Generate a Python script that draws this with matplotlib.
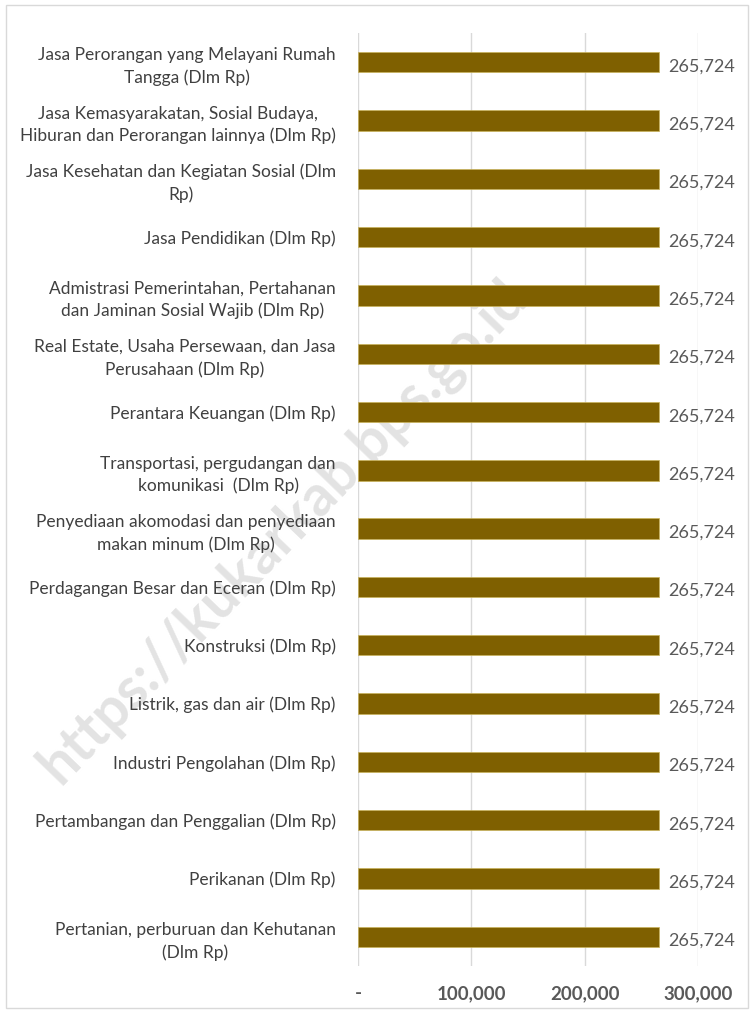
import matplotlib.pyplot as plt
from matplotlib.patches import Rectangle
from matplotlib.ticker import FuncFormatter

# kategori (urutan dari atas ke bawah seperti di gambar)
categories = [
    "Jasa Perorangan yang Melayani Rumah\nTangga (Dlm Rp)",
    "Jasa Kemasyarakatan, Sosial Budaya,\nHiburan dan Perorangan lainnya (Dlm Rp)",
    "Jasa Kesehatan dan Kegiatan Sosial (Dlm\nRp)",
    "Jasa Pendidikan (Dlm Rp)",
    "Admistrasi Pemerintahan, Pertahanan\ndan Jaminan Sosial Wajib (Dlm Rp)",
    "Real Estate, Usaha Persewaan, dan Jasa\nPerusahaan (Dlm Rp)",
    "Perantara Keuangan (Dlm Rp)",
    "Transportasi, pergudangan dan\nkomunikasi  (Dlm Rp)",
    "Penyediaan akomodasi dan penyediaan\nmakan minum (Dlm Rp)",
    "Perdagangan Besar dan Eceran (Dlm Rp)",
    "Konstruksi (Dlm Rp)",
    "Listrik, gas dan air (Dlm Rp)",
    "Industri Pengolahan (Dlm Rp)",
    "Pertambangan dan Penggalian (Dlm Rp)",
    "Perikanan (Dlm Rp)",
    "Pertanian, perburuan dan Kehutanan\n(Dlm Rp)",
]
values = [265724] * 16
x_ticks = [0, 100000, 200000, 300000]

plt.rcParams['font.family'] = ['Lato', 'DejaVu Sans']

fig = plt.figure(figsize=(7.54, 10.13), dpi=100)
# bingkai tipis di sekeliling chart
fig.patches.append(Rectangle((0.008, 0.005), 0.984, 0.99, transform=fig.transFigure,
                             fill=False, edgecolor="#d9d9d9", linewidth=1))

# watermark di belakang batang
fig.text(0.375, 0.475, "https://kukarkab.bps.go.id", fontsize=41, fontweight="bold",
         color="#e3e3e3", rotation=46, ha="center", va="center", zorder=-1)

ax = fig.add_axes([0.4748, 0.0464, 0.4509, 0.921])
ax.set_facecolor("none")
y = list(range(len(categories)))
ax.barh(y, values, height=0.35, color="#7F6000", edgecolor="#c9b25a", linewidth=0.5, zorder=3)

for yi, v in zip(y, values):
    ax.text(v + 8000, yi + 0.07, f"{v:,}", va="center", ha="left",
            fontsize=13, color="#595959")

ax.set_ylim(len(categories) - 0.5, -0.5)
ax.set_xlim(0, 300000)
ax.set_yticks(y)
ax.set_yticklabels(categories, fontsize=12.5, color="#404040",
                   multialignment="center", linespacing=1.45)
ax.set_xticks(x_ticks)
ax.xaxis.set_major_formatter(FuncFormatter(lambda v, p: "-" if v == 0 else f"{int(v):,}"))
ax.tick_params(axis="x", length=0, pad=14, labelsize=13.5, labelcolor="#595959")
ax.tick_params(axis="y", length=0, pad=16)
for lbl in ax.get_xticklabels():
    lbl.set_fontweight("bold")

ax.grid(axis="x", color="#d9d9d9", linewidth=1, zorder=0)
for s in ax.spines.values():
    s.set_visible(False)

fig.savefig("out.png", dpi=100)
